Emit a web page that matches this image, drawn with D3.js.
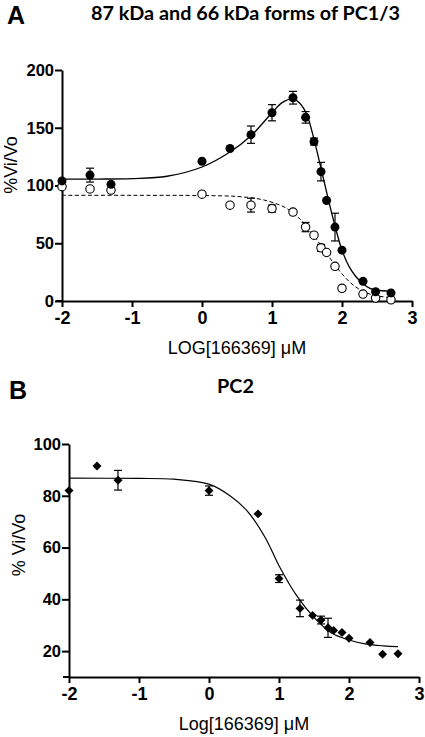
<!DOCTYPE html>
<html><head><meta charset="utf-8">
<script src="https://cdn.jsdelivr.net/npm/d3@7"></script>
<style>body{margin:0;background:#fff}svg{display:block}
.ar{font-family:"Liberation Sans","Arimo",Arial,Helvetica,sans-serif !important;}
.ti{font-family:Lato,"Open Sans",sans-serif !important;}
</style>
</head><body>
<script>
// ---------- Panel A data ----------
const aFilledX   = [-2, -1.6, -1.3, 0, 0.4, 0.7, 1.0, 1.3, 1.48, 1.6, 1.7, 1.78, 1.9, 2.0, 2.3, 2.48, 2.7];
const aFilledY   = [104, 109, 101, 121, 132, 144, 163, 176, 159, 138, 112, 87, 64, 44, 17, 8, 7];
const aFilledErr = [0, 6, 0, 0, 0, 7.5, 7, 5.5, 5, 3, 8, 0, 12, 0, 0, 0, 0];
const aOpenX     = [-2, -1.6, -1.3, 0, 0.4, 0.7, 1.0, 1.3, 1.48, 1.6, 1.7, 1.78, 1.9, 2.0, 2.3, 2.48, 2.7];
const aOpenY     = [99, 97, 96, 92.5, 83, 83, 80, 77, 64, 57, 46, 42, 30, 11, 6, 2.5, 1];
const aOpenErr   = [0, 0, 0, 0, 0, 6, 3, 0, 4, 0, 3, 0, 0, 0, 0, 0, 0];
// fitted curves
const aFitSolidX = [-2, -1.5, -1, -0.5, 0, 0.4, 0.7, 1.0, 1.15, 1.3, 1.4, 1.5, 1.6, 1.7, 1.8, 1.9, 2.0, 2.1, 2.2, 2.3, 2.4, 2.5, 2.7];
const aFitSolidY = [105.5, 105.6, 106, 108, 116, 129, 143, 163, 172, 175, 171, 161, 140, 115, 89, 65, 44, 30, 21, 15, 11, 9.3, 8.5];
const aFitDashX  = [-2, -1, 0, 0.5, 0.8, 1.0, 1.2, 1.4, 1.5, 1.6, 1.7, 1.8, 1.9, 2.0, 2.1, 2.2, 2.3, 2.45, 2.7];
const aFitDashY  = [91.5, 91.5, 91.3, 90.5, 88.5, 85.5, 80.5, 71, 64.5, 56.5, 48, 39.5, 31, 23.5, 17, 12, 8.5, 5, 3];
const aXTicks = [-2, -1, 0, 1, 2, 3];
const aYTicks = [0, 50, 100, 150, 200];

// ---------- Panel B data ----------
const bX   = [-2, -1.6, -1.3, 0, 0.7, 1.0, 1.3, 1.48, 1.6, 1.7, 1.78, 1.9, 2.0, 2.3, 2.48, 2.7];
const bY   = [82, 91.5, 86, 82, 73, 48, 36.5, 33.8, 32, 29, 28, 27.2, 25, 23.3, 18.8, 19];
const bErr = [0, 0, 3.8, 1.8, 0, 1.5, 3.2, 0, 1.5, 3.7, 0, 0, 0, 0, 0, 0];
const bFitX = [-2, -1, -0.5, 0, 0.3, 0.55, 0.8, 1.0, 1.25, 1.5, 1.75, 2.0, 2.25, 2.5, 2.7];
const bFitY = [86.8, 86.7, 86.4, 84.5, 80, 74, 64, 53, 41.5, 33, 27, 24.3, 22.7, 22, 21.7];
const bXTicks = [-2, -1, 0, 1, 2, 3];
const bYTicks = [20, 40, 60, 80, 100];

const W = 425, H = 737;
const svg = d3.select("body").append("svg").attr("width", W).attr("height", H);

function fitText(sel, targetW) {
  const node = sel.node();
  const fs = parseFloat(sel.style("font-size"));
  const w = node.getComputedTextLength();
  sel.style("font-size", (fs * targetW / w).toFixed(2) + "px");
}

function drawAxes(g, x, y, xTicks, yTicks) {
  const ax = g.append("g").attr("transform", `translate(0,${y.range()[0]})`)
    .call(d3.axisBottom(x).tickValues(xTicks).tickSize(6).tickPadding(4).tickSizeOuter(0).tickFormat(d3.format("d")));
  const ay = g.append("g").attr("transform", `translate(${x.range()[0]},0)`)
    .call(d3.axisLeft(y).tickValues(yTicks).tickSize(7).tickPadding(1).tickSizeOuter(0));
  [ax, ay].forEach(a => {
    a.attr("font-family", null);
    a.select(".domain").attr("stroke", "#000").attr("stroke-width", 2);
    a.selectAll(".tick line").attr("stroke", "#000").attr("stroke-width", 2);
    a.selectAll("text").attr("class", "ar").attr("fill", "#000").style("font-weight", "bold");
  });
  ax.selectAll("text").style("font-size", "18px").text(d => d < 0 ? "-" + Math.abs(d) : d);
  ay.selectAll("text").style("font-size", "16.5px");
  g.append("line").attr("x1", x.range()[0] - 6).attr("x2", x.range()[0])
    .attr("y1", y.range()[0]).attr("y2", y.range()[0]).attr("stroke", "#000").attr("stroke-width", 2);
}

function errorBars(g, xs, ys, es, x, y) {
  const idx = d3.range(xs.length).filter(i => es[i] > 0);
  const eb = g.append("g").attr("stroke", "#000").attr("stroke-width", 1.2);
  idx.forEach(i => {
    const cx = x(xs[i]);
    eb.append("line").attr("x1", cx).attr("x2", cx).attr("y1", y(ys[i] - es[i])).attr("y2", y(ys[i] + es[i]));
    [ys[i] - es[i], ys[i] + es[i]].forEach(v =>
      eb.append("line").attr("x1", cx - 4).attr("x2", cx + 4).attr("y1", y(v)).attr("y2", y(v)));
  });
}

// ================= Panel A =================
const xA = d3.scaleLinear().domain([-2, 3]).range([62, 412]);
const yA = d3.scaleLinear().domain([0, 200]).range([301, 70]);
const gA = svg.append("g");

svg.append("text").attr("class", "ar").attr("x", 7).attr("y", 24).style("font-weight", "bold")
  .style("font-size", "25px").text("A");
const tA = svg.append("text").attr("class", "ti").attr("x", 91).attr("y", 20).style("font-weight", "bold")
  .style("font-size", "19px").attr("fill", "#000").text("87 kDa and 66 kDa forms of PC1/3");
fitText(tA, 309);
const titleSize = tA.style("font-size");

drawAxes(gA, xA, yA, aXTicks, aYTicks);

const lineA = d3.line().x(d => xA(d[0])).y(d => yA(d[1])).curve(d3.curveCatmullRom.alpha(0.5));
gA.append("path").datum(d3.zip(aFitSolidX, aFitSolidY)).attr("d", lineA)
  .attr("fill", "none").attr("stroke", "#000").attr("stroke-width", 1.3);
gA.append("path").datum(d3.zip(aFitDashX, aFitDashY)).attr("d", lineA)
  .attr("fill", "none").attr("stroke", "#000").attr("stroke-width", 1).attr("stroke-dasharray", "4,2.5");

errorBars(gA, aFilledX, aFilledY, aFilledErr, xA, yA);
errorBars(gA, aOpenX, aOpenY, aOpenErr, xA, yA);

gA.append("g").selectAll("circle").data(d3.zip(aOpenX, aOpenY)).join("circle")
  .attr("cx", d => xA(d[0])).attr("cy", d => yA(d[1])).attr("r", 4.2)
  .attr("fill", "#fff").attr("stroke", "#000").attr("stroke-width", 1.1);
gA.append("g").selectAll("circle").data(d3.zip(aFilledX, aFilledY)).join("circle")
  .attr("cx", d => xA(d[0])).attr("cy", d => yA(d[1])).attr("r", 4.5).attr("fill", "#000");

svg.append("text").attr("class", "ar").attr("x", xA(0.5)).attr("y", 354).attr("text-anchor", "middle")
  .style("font-size", "18px").text("LOG[166369] \u03bcM");
svg.append("text").attr("class", "ar").attr("transform", "translate(17,165) rotate(-90)").attr("text-anchor", "middle")
  .style("font-size", "18px").text("%Vi/Vo");

// ================= Panel B =================
const xB = d3.scaleLinear().domain([-2, 3]).range([69, 419]);
const yB = d3.scaleLinear().domain([10, 100]).range([677, 444]);
const gB = svg.append("g");

svg.append("text").attr("class", "ar").attr("x", 9).attr("y", 399).style("font-weight", "bold")
  .style("font-size", "25px").text("B");
svg.append("text").attr("class", "ti").attr("x", 235.5).attr("y", 393).attr("text-anchor", "middle")
  .style("font-weight", "bold").style("font-size", titleSize).attr("fill", "#000").text("PC2");

drawAxes(gB, xB, yB, bXTicks, bYTicks);

const lineB = d3.line().x(d => xB(d[0])).y(d => yB(d[1])).curve(d3.curveCatmullRom.alpha(0.5));
gB.append("path").datum(d3.zip(bFitX, bFitY)).attr("d", lineB)
  .attr("fill", "none").attr("stroke", "#000").attr("stroke-width", 1.2);

errorBars(gB, bX, bY, bErr, xB, yB);

const diamond = d3.symbol().type(d3.symbolSquare).size(40);
gB.append("g").selectAll("path").data(d3.zip(bX, bY)).join("path")
  .attr("d", diamond)
  .attr("transform", d => `translate(${xB(d[0])},${yB(d[1])}) rotate(45)`)
  .attr("fill", "#000");

svg.append("text").attr("class", "ar").attr("x", xB(0.5)).attr("y", 730).attr("text-anchor", "middle")
  .style("font-size", "18px").text("Log[166369] \u03bcM");
svg.append("text").attr("class", "ar").attr("transform", "translate(25,545) rotate(-90)").attr("text-anchor", "middle")
  .style("font-size", "18px").text("% Vi/Vo");
</script>
</body></html>
